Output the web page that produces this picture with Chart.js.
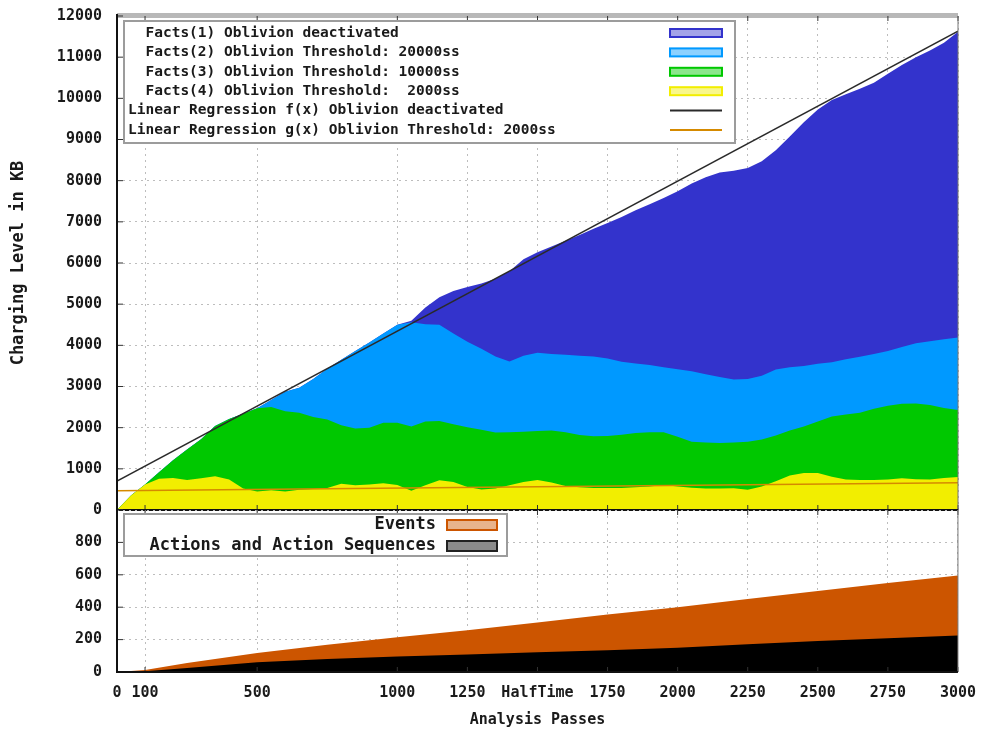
<!DOCTYPE html>
<html>
<head>
<meta charset="utf-8">
<script src="https://cdn.jsdelivr.net/npm/chart.js@4/dist/chart.umd.min.js"></script>
<style>
  html, body { margin: 0; padding: 0; background: #fff; }
  #wrap { position: relative; width: 988px; height: 734px; background: #fff; }
  #wrap canvas { position: absolute; left: 0; top: 0; }
</style>
</head>
<body>
<div id="wrap">
  <canvas id="factsChart" width="988" height="734"></canvas>
  <canvas id="eventsChart" width="988" height="734"></canvas>
</div>
<script>
// ---- data: charging level of the fact base per analysis pass ----
const passes = [0,50,100,150,200,250,300,350,400,450,500,550,600,650,700,750,800,850,900,950,
  1000,1050,1100,1150,1200,1250,1300,1350,1400,1450,1500,1550,1600,1650,1700,1750,1800,1850,1900,1950,
  2000,2050,2100,2150,2200,2250,2300,2350,2400,2450,2500,2550,2600,2650,2700,2750,2800,2850,2900,2950,3000];

const facts1 = [0,350,620,920,1210,1470,1720,2040,2210,2340,2470,2670,2870,2970,3180,3430,3650,3860,4070,4290,
  4500,4600,4920,5170,5320,5420,5500,5620,5800,6090,6260,6400,6540,6680,6830,6970,7120,7280,7430,7580,
  7740,7930,8080,8200,8240,8310,8470,8740,9070,9420,9730,9960,10100,10230,10380,10600,10810,11000,11160,11350,11620];

const facts2 = [0,350,620,920,1210,1470,1720,2040,2210,2340,2470,2670,2870,2970,3180,3430,3650,3860,4070,4290,
  4500,4560,4510,4500,4290,4090,3920,3730,3610,3750,3820,3790,3770,3750,3730,3680,3600,3560,3520,3470,
  3420,3370,3300,3230,3170,3180,3260,3410,3470,3500,3550,3590,3660,3720,3790,3860,3960,4050,4100,4150,4190];

const facts3 = [0,350,620,920,1210,1470,1720,2040,2210,2340,2470,2500,2400,2360,2260,2200,2060,1980,2000,2120,
  2120,2030,2150,2160,2080,2010,1950,1880,1890,1900,1920,1930,1890,1820,1790,1800,1830,1870,1890,1890,
  1780,1660,1640,1630,1640,1660,1710,1810,1930,2030,2150,2270,2320,2360,2460,2530,2580,2590,2550,2480,2430];

const facts4 = [0,350,620,760,780,730,770,820,740,520,450,480,450,490,510,535,640,600,620,650,
  610,470,600,720,680,560,500,520,600,680,730,670,580,550,535,535,535,550,570,610,
  570,540,520,520,530,490,570,700,840,900,900,810,740,730,730,740,770,750,740,780,800];

// regression lines, given by their values at both ends of the pass range
const regPasses = [0, 3000];
const regF = [700, 11630];
const regG = [470, 660];

const factLabels = [
  '  Facts(1) Oblivion deactivated',
  '  Facts(2) Oblivion Threshold: 20000ss',
  '  Facts(3) Oblivion Threshold: 10000ss',
  '  Facts(4) Oblivion Threshold:  2000ss'
];
const regLabels = [
  'Linear Regression f(x) Oblivion deactivated',
  'Linear Regression g(x) Oblivion Threshold: 2000ss'
];

// ---- data: events and actions per analysis pass ----
const eventPasses = [0,100,250,500,750,1000,1250,1500,1750,2000,2250,2500,2750,3000];
const events  = [0,12,55,118,168,215,258,305,355,400,450,500,550,595];
const actions = [0,5,25,60,80,95,108,122,135,150,172,192,208,225];
const eventLabels = ['Events', 'Actions and Action Sequences'];

// ---- axis ticks ----
const xTickValues = [0,100,500,1000,1250,1500,1750,2000,2250,2500,2750,3000];
const xTickLabels = ['0','100','500','1000','1250','HalfTime','1750','2000','2250','2500','2750','3000'];
const yTopTicks = [0,1000,2000,3000,4000,5000,6000,7000,8000,9000,10000,11000,12000];
const yBottomTicks = [0,200,400,600,800,1000];
const yBottomLabels = ['0','200','400','600','800',''];

const MONO = '"DejaVu Sans Mono", "Liberation Mono", monospace';
const INK = '#1a1a1a';
const GRID = '#bdbdbd';

const pairs = (xs, ys) => xs.map((x, i) => ({ x, y: ys[i] }));

function paleColor(hex, k) {
  const n = parseInt(hex.slice(1), 16);
  const r = (n >> 16) & 255, g = (n >> 8) & 255, b = n & 255;
  const m = c => Math.round(c + (255 - c) * k);
  return `rgb(${m(r)},${m(g)},${m(b)})`;
}

// legend box drawn inside each panel
const panelLegend = {
  id: 'panelLegend',
  afterDraw(chart, args, o) {
    if (!o || !o.entries) return;
    const ctx = chart.ctx;
    const [bx, by, bw, bh] = o.box;
    ctx.save();
    ctx.fillStyle = '#fff';
    ctx.fillRect(bx, by, bw, bh);
    ctx.strokeStyle = '#9c9c9c';
    ctx.lineWidth = 2;
    ctx.strokeRect(bx, by, bw, bh);
    ctx.font = `bold ${o.fontSize}px ${MONO}`;
    ctx.textBaseline = 'middle';
    ctx.textAlign = o.align;
    o.entries.forEach((idx, i) => {
      const ds = chart.data.datasets[idx];
      const y = o.rowY + i * o.rowH;
      ctx.fillStyle = INK;
      ctx.fillText(ds.label, o.textX, y);
      const sx = o.swatchX, sw = o.swatchW;
      if (ds.fill) {
        const h = o.swatchH;
        ctx.fillStyle = paleColor(ds.backgroundColor, 0.55);
        ctx.fillRect(sx, y - h / 2, sw, h);
        ctx.strokeStyle = ds.backgroundColor === '#000000' ? '#222' : ds.backgroundColor;
        ctx.lineWidth = 2;
        ctx.strokeRect(sx, y - h / 2, sw, h);
      } else {
        ctx.strokeStyle = ds.borderColor;
        ctx.lineWidth = 2;
        ctx.beginPath();
        ctx.moveTo(sx, y);
        ctx.lineTo(sx + sw, y);
        ctx.stroke();
      }
    });
    ctx.restore();
  }
};

// plot frame and inward tick marks
const panelFrame = {
  id: 'panelFrame',
  afterDatasetsDraw(chart, args, o) {
    const ctx = chart.ctx;
    const { left, right, top, bottom } = chart.chartArea;
    const xs = chart.scales.x, ys = chart.scales.y;
    ctx.save();
    if (o.topBand) {
      ctx.fillStyle = '#b8b8b8';
      ctx.fillRect(left, top - 3, right - left, 5);
    }
    ctx.strokeStyle = '#333';
    ctx.lineWidth = 1;
    ctx.beginPath();
    ys.ticks.forEach(t => {
      const py = ys.getPixelForValue(t.value);
      ctx.moveTo(left, py); ctx.lineTo(left + 6, py);
    });
    xs.ticks.forEach(t => {
      const px = xs.getPixelForValue(t.value);
      ctx.moveTo(px, bottom); ctx.lineTo(px, bottom - 5);
      ctx.moveTo(px, top); ctx.lineTo(px, top + 5);
    });
    ctx.stroke();
    ctx.strokeStyle = '#777';
    ctx.beginPath();
    ctx.moveTo(right, top); ctx.lineTo(right, bottom);
    ctx.stroke();
    ctx.strokeStyle = '#111';
    ctx.lineWidth = 2;
    ctx.beginPath();
    ctx.moveTo(left, top - 2); ctx.lineTo(left, bottom + 1);
    ctx.moveTo(left, bottom); ctx.lineTo(right, bottom);
    ctx.stroke();
    ctx.restore();
  }
};

const tickFont = { family: MONO, size: 15, weight: 'bold' };
const fixedTicks = list => scale => { scale.ticks = list.map(v => ({ value: v })); };
// fixed axis width; the label overhang is absorbed by the layout padding
const fitYAxis = s => { s.width = 117; s.paddingTop = 0; s.paddingBottom = 0; };

// ---- upper panel: charging level ----
new Chart(document.getElementById('factsChart'), {
  type: 'line',
  data: {
    datasets: [
      { label: regLabels[0], data: pairs(regPasses, regF), borderColor: '#2a2a2a', borderWidth: 1.5, fill: false, order: 0 },
      { label: regLabels[1], data: pairs(regPasses, regG), borderColor: '#d58a00', borderWidth: 1.5, fill: false, order: 1 },
      { label: factLabels[3], data: pairs(passes, facts4), backgroundColor: '#f2ee00', borderColor: 'rgba(0,0,0,0)', borderWidth: 0, fill: 'origin', order: 2 },
      { label: factLabels[2], data: pairs(passes, facts3), backgroundColor: '#00c800', borderColor: 'rgba(0,0,0,0)', borderWidth: 0, fill: 'origin', order: 3 },
      { label: factLabels[1], data: pairs(passes, facts2), backgroundColor: '#0099ff', borderColor: 'rgba(0,0,0,0)', borderWidth: 0, fill: 'origin', order: 4 },
      { label: factLabels[0], data: pairs(passes, facts1), backgroundColor: '#3333cc', borderColor: 'rgba(0,0,0,0)', borderWidth: 0, fill: 'origin', order: 5 }
    ]
  },
  options: {
    responsive: false,
    animation: false,
    devicePixelRatio: 1,
    layout: { padding: { left: 0, top: 16, right: 30, bottom: 224 } },
    elements: { point: { radius: 0 }, line: { tension: 0 } },
    plugins: {
      legend: { display: false },
      tooltip: { enabled: false },
      panelFrame: { topBand: true },
      panelLegend: {
        box: [124, 21, 611, 122],
        entries: [5, 4, 3, 2, 0, 1],
        align: 'left', textX: 128, rowY: 33, rowH: 19.4,
        swatchX: 670, swatchW: 52, swatchH: 8, fontSize: 14.5
      }
    },
    scales: {
      x: {
        type: 'linear', min: 0, max: 3000,
        afterBuildTicks: fixedTicks(xTickValues),
        ticks: { display: false },
        grid: { color: GRID, drawTicks: false },
        border: { display: false, dash: [2, 4] },
        afterFit: s => { s.height = 0; s.paddingLeft = 0; s.paddingRight = 0; }
      },
      y: {
        min: 0, max: 12000,
        afterBuildTicks: fixedTicks(yTopTicks),
        ticks: { font: tickFont, color: INK, padding: 15, callback: v => String(v) },
        grid: { color: GRID, drawTicks: false },
        border: { display: false, dash: [2, 4] },
        title: { display: true, text: 'Charging Level in KB', font: { family: MONO, size: 17, weight: 'bold' }, color: INK, padding: { top: 8, bottom: 0 } },
        afterFit: fitYAxis
      }
    }
  },
  plugins: [panelFrame, panelLegend]
});

// ---- lower panel: events and actions ----
new Chart(document.getElementById('eventsChart'), {
  type: 'line',
  data: {
    datasets: [
      { label: eventLabels[1], data: pairs(eventPasses, actions), backgroundColor: '#000000', borderColor: 'rgba(0,0,0,0)', borderWidth: 0, fill: 'origin', order: 0 },
      { label: eventLabels[0], data: pairs(eventPasses, events), backgroundColor: '#cc5500', borderColor: 'rgba(0,0,0,0)', borderWidth: 0, fill: 'origin', order: 1 }
    ]
  },
  options: {
    responsive: false,
    animation: false,
    devicePixelRatio: 1,
    layout: { padding: { left: 0, top: 510, right: 30, bottom: 0 } },
    elements: { point: { radius: 0 }, line: { tension: 0 } },
    plugins: {
      legend: { display: false },
      tooltip: { enabled: false },
      panelFrame: { topBand: false },
      panelLegend: {
        box: [124, 514, 383, 42],
        entries: [1, 0],
        align: 'right', textX: 436, rowY: 525, rowH: 21,
        swatchX: 447, swatchW: 50, swatchH: 10, fontSize: 17
      }
    },
    scales: {
      x: {
        type: 'linear', min: 0, max: 3000,
        afterBuildTicks: fixedTicks(xTickValues),
        ticks: {
          font: tickFont, color: INK, padding: 12, autoSkip: false, maxRotation: 0,
          callback: v => xTickLabels[xTickValues.indexOf(v)]
        },
        grid: { color: GRID, drawTicks: false },
        border: { display: false, dash: [2, 4] },
        title: { display: true, text: 'Analysis Passes', font: { family: MONO, size: 15, weight: 'bold' }, color: INK, padding: { top: 0, bottom: 5 } },
        afterFit: s => { s.height = 62; }
      },
      y: {
        min: 0, max: 1000,
        afterBuildTicks: fixedTicks(yBottomTicks),
        ticks: { font: tickFont, color: INK, padding: 15, callback: v => yBottomLabels[yBottomTicks.indexOf(v)] },
        grid: { color: GRID, drawTicks: false },
        border: { display: false, dash: [2, 4] },
        afterFit: fitYAxis
      }
    }
  },
  plugins: [panelFrame, panelLegend]
});
</script>
</body>
</html>
